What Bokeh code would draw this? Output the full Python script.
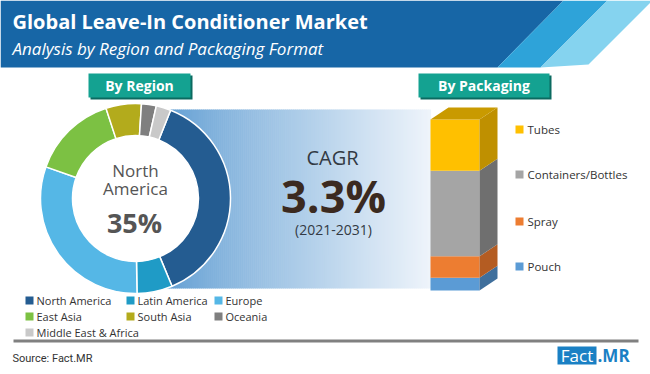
import numpy as np
from bokeh.plotting import figure
from bokeh.models import Range1d, Span
from bokeh.core.properties import value
from bokeh.embed import file_html
from bokeh.resources import INLINE

# ---------------- data ----------------
title = "Global Leave-In Conditioner Market"
subtitle = "Analysis by Region and Packaging Format"

regions = ["North America", "Latin America", "Europe", "East Asia",
           "South Asia", "Oceania", "Middle East & Africa"]
region_share = [37.5, 6.0, 30.5, 14.5, 6.0, 2.5, 2.5]
region_colors = ["#245c91", "#1f9bc6", "#55b7e6", "#7cc143",
                 "#b3ab1c", "#7f7f7f", "#c9c9c9"]
highlight_region = ["North", "America"]
highlight_label = "35%"

packaging = ["Pouch", "Spray", "Containers/Bottles", "Tubes"]
packaging_share = [7.5, 12.5, 50.0, 30.0]
pack_colors = ["#5b9bd5", "#ed7d31", "#a5a5a5", "#ffc000"]
pack_side_colors = ["#3f6f9c", "#b45c22", "#6f6f6f", "#bf9000"]

cagr_label = "CAGR"
cagr_value = "3.3%"
cagr_period = "(2021-2031)"
source_text = "Source: Fact.MR"

H = 374


def Y(y):
    return H - y


p = figure(width=650, height=374, x_range=Range1d(0, 650), y_range=Range1d(0, 374),
           output_backend="svg", toolbar_location=None, min_border=0)
p.axis.visible = False
p.grid.visible = False
p.outline_line_color = None
p.background_fill_color = "white"
p.border_fill_color = "white"

# ---------------- header ----------------
p.patch([0, 563, 497, 0], [Y(0), Y(0), Y(67), Y(67)], fill_color="#1766a6", line_color=None)
p.patch([563, 607, 540, 497], [Y(0), Y(0), Y(67), Y(67)], fill_color="#2ea3d9", line_color=None)
p.patch([607, 652, 588, 540], [Y(0), Y(0), Y(64), Y(67)], fill_color="#85d3ef", line_color=None)

p.text(x=[12], y=[Y(21)], text=[title], text_font=value("Open Sans"), text_font_size="20px",
       text_font_style="bold", text_color="white", text_baseline="middle")
p.text(x=[12], y=[Y(48)], text=[subtitle], text_font=value("Open Sans"), text_font_size="17px",
       text_font_style="italic", text_color="white", text_baseline="middle")

# ---------------- teal headers ----------------
for (x0, x1, lab) in [(88, 190, "By Region"), (418, 549, "By Packaging")]:
    p.quad(left=x0 + 2, right=x1 + 2, top=Y(75), bottom=Y(99), fill_color="#0b6a60", line_color=None)
    p.quad(left=x0, right=x1, top=Y(73), bottom=Y(97), fill_color="#14a291", line_color=None)
    p.text(x=[(x0 + x1) / 2], y=[Y(85)], text=[lab], text_font=value("Open Sans"),
           text_font_size="14px", text_font_style="bold", text_color="white",
           text_align="center", text_baseline="middle")

# ---------------- gradient band ----------------
gx0, gx1 = 165, 430
n = 133
edges = np.linspace(gx0, gx1, n + 1)
c0 = np.array([100, 160, 212])
c1 = np.array([238, 244, 251])
tt = np.linspace(0, 1, n) ** 0.9
cols = ["#%02x%02x%02x" % tuple(int(v) for v in (c0 + (c1 - c0) * t)) for t in tt]
p.quad(left=edges[:-1], right=edges[1:] + 0.6, top=Y(109), bottom=Y(288), fill_color=cols, line_color=None)

# ---------------- donut ----------------
cx, cy = 135, Y(198)
shares = np.array(region_share, dtype=float)
cum = np.concatenate([[0], np.cumsum(shares)]) / shares.sum() * 360.0 + 21.7
p.circle(x=[cx], y=[cy], radius=63, fill_color="white", line_color=None)
p.annular_wedge(x=cx, y=cy, inner_radius=63, outer_radius=95,
                start_angle=np.radians(90 - cum[:-1]), end_angle=np.radians(90 - cum[1:]),
                direction="clock", fill_color=region_colors, line_color="white", line_width=1.5)

p.text(x=[cx, cx], y=[Y(170), Y(188)], text=highlight_region, text_font=value("Open Sans"),
       text_font_size="17px", text_color="#555555", text_align="center", text_baseline="middle")
p.text(x=[cx - 1], y=[Y(222)], text=[highlight_label], text_font=value("Open Sans"),
       text_font_size="27px", text_font_style="bold", text_color="#555555",
       text_align="center", text_baseline="middle")

# ---------------- CAGR ----------------
p.text(x=[332], y=[Y(157)], text=[cagr_label], text_font=value("Open Sans"), text_font_size="20px",
       text_color="#333a44", text_align="center", text_baseline="middle")
p.text(x=[333], y=[Y(195)], text=[cagr_value], text_font=value("Open Sans"), text_font_size="45px",
       text_font_style="bold", text_color="#3b2a20", text_align="center", text_baseline="middle")
p.text(x=[333], y=[Y(229)], text=[cagr_period], text_font=value("Open Sans"), text_font_size="14px",
       text_color="#333a44", text_align="center", text_baseline="middle")

# ---------------- 3D stacked bar ----------------
bx0, bx1 = 430, 479
dx, dy = 18, 12
base = Y(290)
scale = (290 - 119) / 100.0
ps = np.array(packaging_share, dtype=float)
bot = base + np.concatenate([[0], np.cumsum(ps)[:-1]]) * scale
top = base + np.cumsum(ps) * scale
p.quad(left=bx0, right=bx1, bottom=bot, top=top, fill_color=pack_colors, line_color=None)
p.patches(xs=[[bx1, bx1 + dx, bx1 + dx, bx1] for _ in ps],
          ys=[[b, b + dy, t + dy, t] for b, t in zip(bot, top)],
          fill_color=pack_side_colors, line_color=None)
T = top[-1]
p.patch([bx0, bx0 + dx, bx1 + dx, bx1], [T, T + dy, T + dy, T], fill_color="#c99a00", line_color=None)

# packaging legend
leg_y = [Y(266), Y(221), Y(174), Y(129)]
for lab, col, yy in zip(packaging, pack_colors, leg_y):
    p.quad(left=515, right=523, top=yy + 4, bottom=yy - 4, fill_color=col, line_color=None)
    p.text(x=[527], y=[yy], text=[lab], text_font=value("Open Sans"), text_font_size="11.5px",
           text_color="#333333", text_baseline="middle")

# region legend
col_sq = [25, 126, 214]
row_y = [300, 316, 332]
for i, (lab, col) in enumerate(zip(regions, region_colors)):
    r, c = divmod(i, 3)
    yy = Y(row_y[r])
    x0 = col_sq[c]
    p.quad(left=x0, right=x0 + 8, top=yy + 4, bottom=yy - 4, fill_color=col, line_color=None)
    p.text(x=[x0 + 11], y=[yy], text=[lab], text_font=value("Open Sans"), text_font_size="11px",
           text_color="#333333", text_baseline="middle")

# footer
p.quad(left=[13], right=[638], top=[Y(339)], bottom=[Y(342)], fill_color="#808080", line_color=None)
p.text(x=[12], y=[Y(358)], text=[source_text], text_font=value("Roboto"), text_font_size="11px",
       text_color="#333333", text_baseline="middle")
p.quad(left=557, right=596, top=Y(346), bottom=Y(364), fill_color="#1a80c4", line_color=None)
p.text(x=[576.5], y=[Y(355)], text=["Fact"], text_font=value("Open Sans"), text_font_size="17px",
       text_color="white", text_align="center", text_baseline="middle")
p.text(x=[597], y=[Y(355)], text=[".MR"], text_font=value("Open Sans"), text_font_size="17px",
       text_font_style="bold", text_color="#1a80c4", text_baseline="middle")

open("out.html", "w").write(file_html(p, INLINE))
